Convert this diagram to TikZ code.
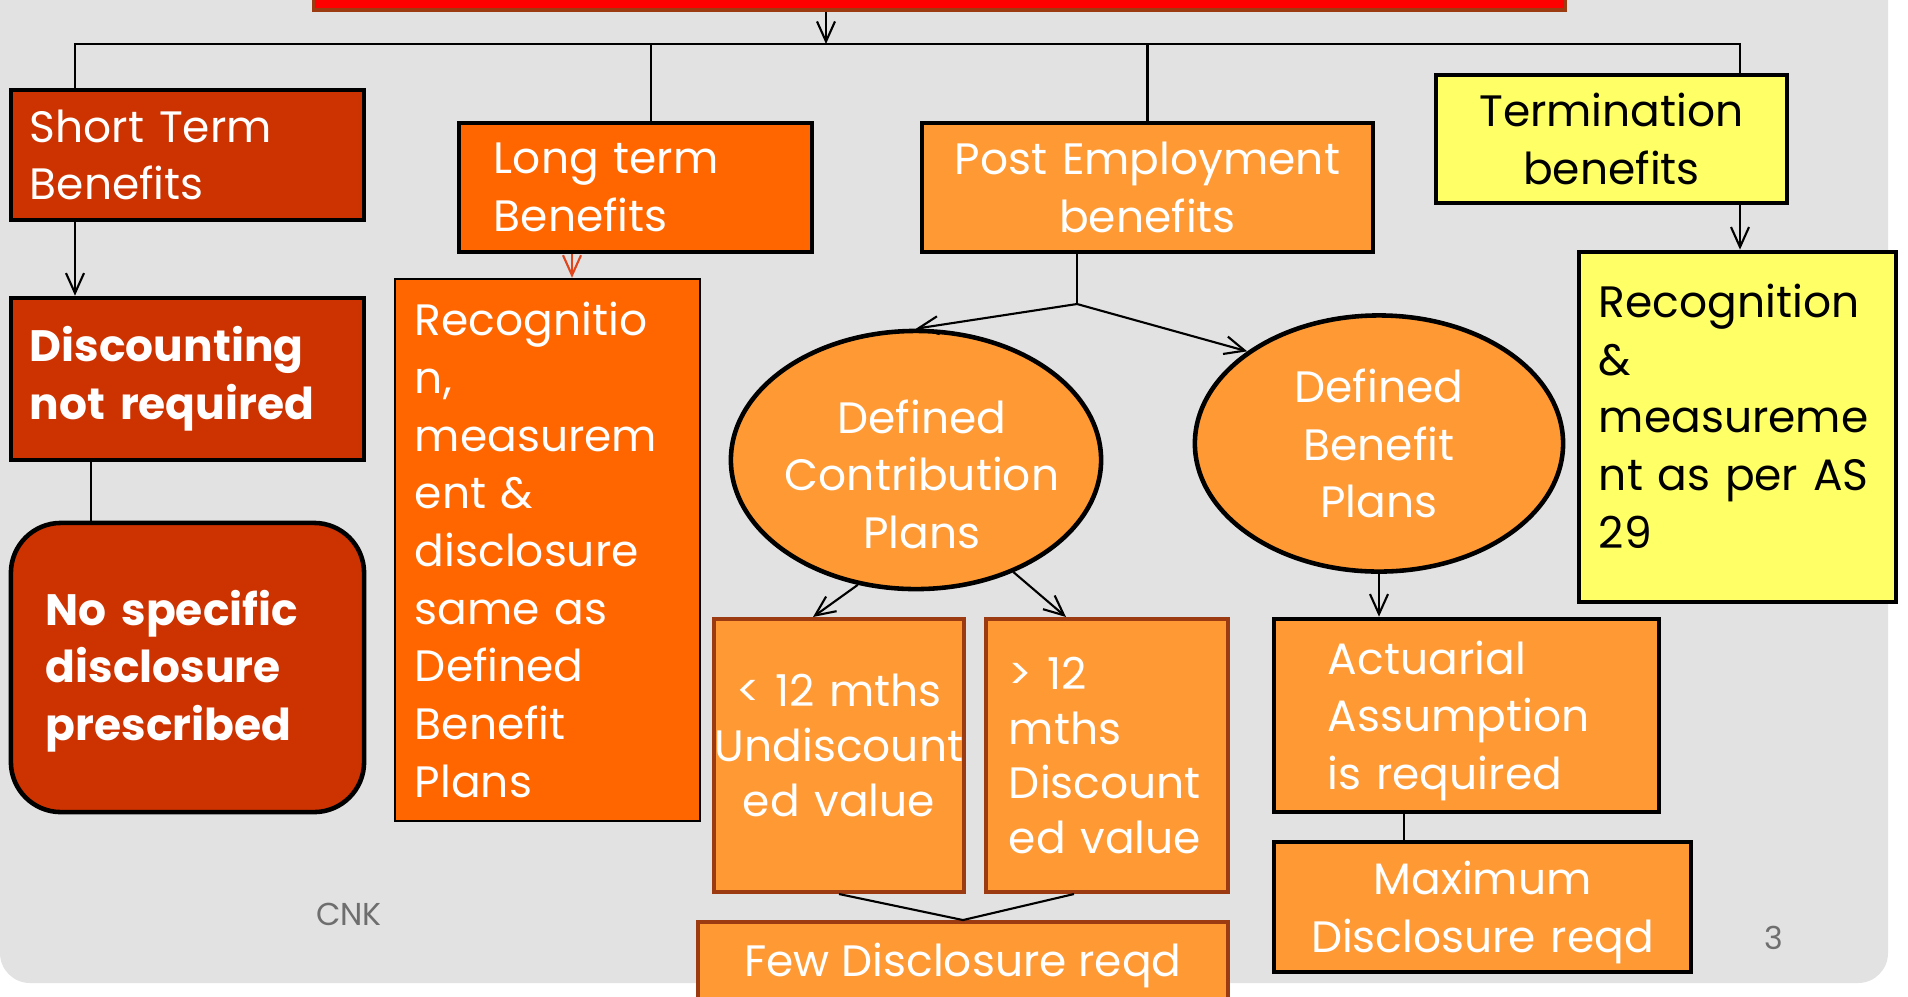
\documentclass[tikz,border=0pt]{standalone}
\usepackage{fontspec}
\setmainfont{Poppins}
\usepackage{tikz}
\usetikzlibrary{shapes.geometric, arrows.meta, positioning, calc}

\definecolor{bggray}{HTML}{E2E2E2}
\definecolor{rust}{HTML}{CC3300}
\definecolor{pumpkin}{HTML}{FF6600}
\definecolor{apricot}{HTML}{FF9933}
\definecolor{lemon}{HTML}{FFFF66}
\definecolor{brownline}{HTML}{9C3A12}
\definecolor{titlered}{HTML}{FF0000}
\definecolor{arrowred}{HTML}{E0451B}
\definecolor{footgray}{HTML}{6E6E6E}

\begin{document}
\begin{tikzpicture}[
    x=0.01cm, y=-0.01cm,
    font=\fontsize{12.5}{16.4}\selectfont,
    box/.style={rectangle, draw, line width=1.3pt, inner sep=0pt, text=white},
    leftbox/.style={box, align=left},
    midbox/.style={box, align=center},
    brownbox/.style={box, draw=brownline, line width=1.1pt, fill=apricot, font=\fontsize{12.5}{15.6}\selectfont},
    plan/.style={ellipse, draw, line width=1.3pt, fill=apricot, text=white, align=center, inner sep=-0.15cm},
    conn/.style={line width=0.6pt},
    arrow/.style={conn, -{Straight Barb[length=2mm, width=1.8mm]}},
    foot/.style={text=footgray, font=\fontsize{9}{11}\selectfont}
]
    \useasboundingbox (0,0) rectangle (1908,996);
    \clip (0,0) rectangle (1908,996);
    \fill[white] (0,0) rectangle (1908,996);
    \fill[bggray, rounded corners=0.3cm] (0,-40) rectangle (1888,983);

    \node[rectangle, fill=titlered, draw=brownline, line width=1pt, minimum width=12.51cm, minimum height=0.5cm, inner sep=0pt] (title) at (939.5,-15) {};

    \node[leftbox, fill=rust, minimum width=3.53cm, minimum height=1.3cm, text width=3.15cm] (shortb) at (187.5,155) {Short Term\\Benefits};
    \node[leftbox, fill=pumpkin, minimum width=3.53cm, minimum height=1.29cm, text width=2.83cm] (longb) at (635.5,187.5) {Long term\\Benefits};
    \node[midbox, fill=apricot, minimum width=4.51cm, minimum height=1.29cm, text width=4.4cm] (postb) at (1147.5,187.5) {Post Employment\\benefits};
    \node[midbox, fill=lemon, text=black, minimum width=3.51cm, minimum height=1.28cm, text width=3.4cm] (termb) at (1611.5,139) {Termination\\benefits};

    \node[leftbox, fill=rust, font=\fontsize{12.5}{16.4}\selectfont\bfseries, minimum width=3.53cm, minimum height=1.62cm, text width=3.15cm] (discb) at (187.5,379) {Discounting\\not required};
    \node[leftbox, fill=rust, rounded corners=0.5cm, font=\fontsize{12.5}{16.4}\selectfont\bfseries, minimum width=3.53cm, minimum height=2.89cm, text width=2.83cm] (nospec) at (187.5,667.5) {\rule{0pt}{0.42cm}No specific\\disclosure\\prescribed};

    \node[leftbox, fill=pumpkin, line width=0.6pt, minimum width=3.05cm, minimum height=5.42cm, text width=2.65cm] (recogb) at (547.5,550) {Recognitio\\n,\\measurem\\ent \&\\disclosure\\same as\\Defined\\Benefit\\Plans};
    \node[leftbox, fill=lemon, text=black, minimum width=3.17cm, minimum height=3.5cm, text width=2.77cm] (asrecb) at (1737.5,427) {Recognition\\\&\\measureme\\nt as per AS\\29\rule[-0.22cm]{0pt}{0pt}};

    \node[plan, minimum width=3.7cm, minimum height=2.58cm] (dcell) at (916,460) {\rule{0pt}{0.62cm}\hspace*{0.12cm}Defined\\\hspace*{0.12cm}Contribution\\\hspace*{0.12cm}Plans};
    \node[plan, minimum width=3.68cm, minimum height=2.56cm] (dbell) at (1379,443.5) {Defined\\Benefit\\Plans};

    \node[brownbox, align=center, minimum width=2.5cm, minimum height=2.73cm, text width=2.5cm] (lessb) at (839,755.5) {< 12 mths\\Undiscount\\ed value\rule[-0.2cm]{0pt}{0pt}};
    \node[brownbox, align=left, minimum width=2.42cm, minimum height=2.73cm, text width=1.96cm] (moreb) at (1107,755.5) {> 12\\mths\\Discount\\ed value};
    \node[brownbox, align=center, minimum width=5.3cm, minimum height=0.86cm] (fewb) at (963,965) {Few Disclosure reqd};

    \node[leftbox, fill=apricot, minimum width=3.85cm, minimum height=1.93cm, text width=2.77cm] (actb) at (1466.5,715.5) {\rule{0pt}{0.44cm}Actuarial\\Assumption\\is required};
    \node[midbox, fill=apricot, minimum width=4.17cm, minimum height=1.3cm, text width=4.1cm] (maxb) at (1482.5,907) {\rule{0pt}{0.45cm}Maximum\\Disclosure reqd};

    \node[foot] (footer) at (349,914) {CNK};
    \node[foot] (pagenum) at (1774,938) {3};

    \coordinate (drop) at (826,44);
    \coordinate (busL) at (75,44);
    \coordinate (busR) at (1740,44);
    \coordinate (fork) at (1077,304);

    \draw[arrow] (title.south -| drop) -- (drop);
    \draw[conn] (busL |- shortb.north) |- (busR) -- (busR |- termb.north);
    \draw[conn] ([xshift=0.155cm]longb.north) -- ([xshift=0.155cm]longb.north |- busL);
    \draw[conn] (postb.north) -- (postb.north |- busL);

    \draw[arrow] (busL |- shortb.south) -- (busL |- discb.north);
    \draw[conn] (discb.south -| 91,0) -- (nospec.north -| 91,0);
    \draw[arrow, draw=arrowred] (longb.south -| 572,0) -- (recogb.north -| 572,0);
    \draw[arrow] (busR |- termb.south) -- (busR |- asrecb.north);

    \draw[conn] (postb.south -| fork) -- (fork);
    \draw[arrow] (fork) -- (dcell.north);
    \draw[arrow] (fork) -- (dbell.north west);
    \draw[arrow] (dcell.245) -- (lessb.north -| 813,0);
    \draw[arrow] (dcell.311) -- (moreb.north -| 1066,0);
    \draw[conn] (lessb.south) -- (fewb.north);
    \draw[conn] (moreb.south -| 1074,0) -- (fewb.north);

    \draw[arrow] (dbell.south) -- (dbell.south |- actb.north);
    \draw[conn] (actb.south -| 1404,0) -- (maxb.north -| 1404,0);
\end{tikzpicture}
\end{document}
